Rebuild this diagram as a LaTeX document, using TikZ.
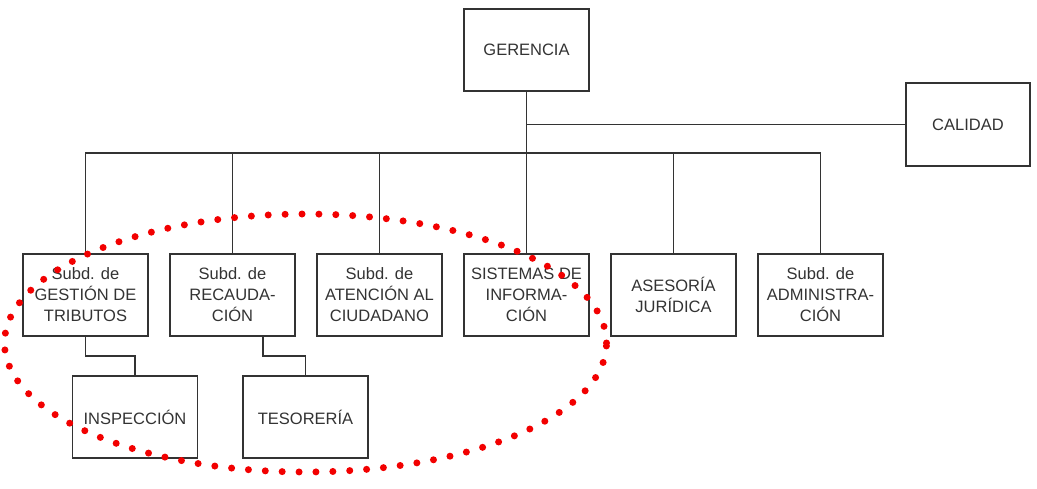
\documentclass[tikz,border=0pt]{standalone}
\usepackage{fontspec}
\setmainfont{Liberation Sans}
\usetikzlibrary{positioning}
\definecolor{ink}{HTML}{333333}
\definecolor{dotred}{HTML}{F20000}
\tikzset{
  unit/.style={rectangle,draw=ink,line width=1.2pt,fill=white,text=ink,align=center,inner sep=2pt,outer sep=0pt,minimum width=125pt,minimum height=82pt,font=\fontsize{16.5}{21}\selectfont},
  link/.style={draw=ink,line width=1.3pt},
  dotring/.style={draw=dotred,line width=7pt,line cap=round,dash pattern=on 0pt off 16.9pt}
}
\begin{document}
\begin{tikzpicture}[x=1pt,y=1pt,node distance=163pt and 22pt]
    \useasboundingbox (0,0) rectangle (1037,-489);
    \node[unit] (ger) at (526.5,-50) {GERENCIA};
    \node[unit,below right=-8pt and 317pt of ger,minimum width=124pt,minimum height=83pt] (cal) {CALIDAD};
    \node[unit,below=of ger] (sis) {SISTEMAS DE\\INFORMA-\\CIÓN};
    \node[unit,left=of sis] (ate) {Subd. de\\ATENCIÓN AL\\CIUDADANO};
    \node[unit,left=of ate] (rec) {Subd. de\\RECAUDA-\\CIÓN};
    \node[unit,left=of rec] (ges) {Subd. de\\GESTIÓN DE\\TRIBUTOS};
    \node[unit,right=of sis] (ase) {ASESORÍA\\JURÍDICA};
    \node[unit,right=of ase] (adm) {Subd. de\\ADMINISTRA-\\CIÓN};
    \node[unit,below=40pt of ges,xshift=49.5pt] (ins) {INSPECCIÓN};
    \node[unit,below=40pt of rec,xshift=73pt] (tes) {TESORERÍA};
    \coordinate (bus) at ([yshift=-62pt]ger.south);
    \draw[link] (ger.south) -- (bus);
    \draw[link] (ger.south |- cal.west) -- (cal.west);
    \foreach \sub in {ges,rec,ate,sis,ase,adm}
      \draw[link] (bus) -| (\sub.north);
    \draw[link] (ges.south) -- ++(0,-20pt) -| (ins.north);
    \draw[link] ([xshift=30.5pt]rec.south) -- ++(0,-20pt) -| (tes.north);
    % red dotted ring round the first four units
    \draw[dotring] (305.5,-343) ellipse [x radius=301pt,y radius=129pt];
  \end{tikzpicture}
\end{document}
